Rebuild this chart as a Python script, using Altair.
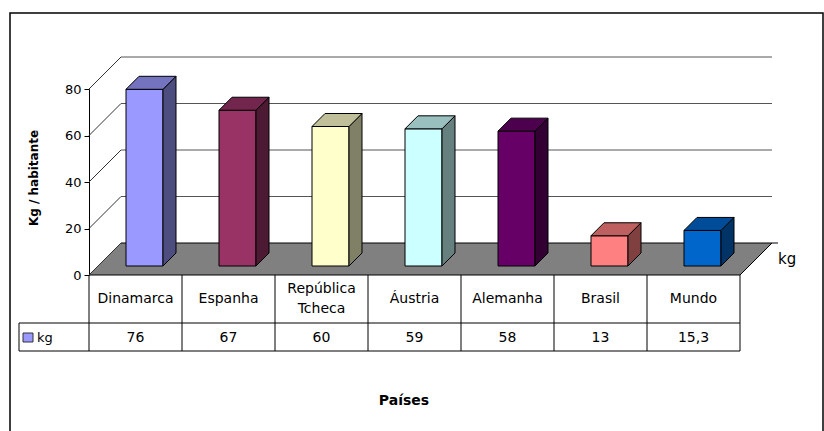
import altair as alt
import pandas as pd

# ---------------- data ----------------
countries = ["Dinamarca", "Espanha", "República Tcheca", "Áustria", "Alemanha", "Brasil", "Mundo"]
header_labels = ["Dinamarca", "Espanha", "República\nTcheca", "Áustria", "Alemanha", "Brasil", "Mundo"]
values = [76, 67, 60, 59, 58, 13, 15.3]
value_labels = ["76", "67", "60", "59", "58", "13", "15,3"]
y_ticks = [0, 20, 40, 60, 80]
series_name = "kg"
y_title = "Kg / habitante"
x_title = "Países"

# ---------------- styles ----------------
front_colors = ["#9999FF", "#993366", "#FFFFCC", "#CCFFFF", "#660066", "#FF8080", "#0066CC"]
side_colors = ["#4D4D80", "#4D1A33", "#808066", "#668080", "#330033", "#804040", "#003366"]
top_colors = ["#7373BF", "#73264D", "#BFBF99", "#99BFBF", "#4D004D", "#BF6060", "#004C99"]
FONT = "DejaVu Sans"

# ---------------- layout ----------------
LEFT, TOP = 89, 89
W, H = 651, 186
RIGHT = 824 - LEFT - W
BOTTOM = 431 - TOP - H
N = len(countries)
YMAX = 80
ux = W / N
uy = H / YMAX


def cx(p):
    return p / ux


def cy(p):
    return p / uy


DEPTH = 32
FRONT = 9
BAR_D = 13
HALF = 18.5
LINE_H = 20

xs = alt.Scale(domain=[0, N], nice=False, zero=False)
ys = alt.Scale(domain=[0, YMAX], nice=False, zero=False)
yaxis = alt.Axis(
    values=y_ticks, title="", grid=False, domainColor="black", tickColor="black",
    tickSize=5, labelFont=FONT, labelFontSize=13, labelColor="black", labelPadding=3,
    domainWidth=1, tickWidth=1)


def Y(field):
    return alt.Y(field, scale=ys, axis=yaxis)


def X(field):
    return alt.X(field, scale=xs, axis=None)


# ---------------- derived tables ----------------
front_rows, side_rows, top_rows = [], [], []
for i, (c, v) in enumerate(zip(countries, values)):
    x0 = i + 0.5 + cx(FRONT - HALF)
    x1 = i + 0.5 + cx(FRONT + HALF)
    y0 = cy(FRONT)
    y1 = v + cy(FRONT)
    front_rows.append(dict(c=c, x0=x0, x1=x1, y0=y0, y1=y1, col=front_colors[i]))
    side_rows.append(dict(c=c, x=x1, lo=y0, hi=y1, col=side_colors[i]))
    side_rows.append(dict(c=c, x=x1 + cx(BAR_D), lo=y0 + cy(BAR_D), hi=y1 + cy(BAR_D), col=side_colors[i]))
    top_rows.append(dict(c=c, y=y1, a=x0, b=x1, col=top_colors[i]))
    top_rows.append(dict(c=c, y=y1 + cy(BAR_D), a=x0 + cx(BAR_D), b=x1 + cx(BAR_D), col=top_colors[i]))

front_df = pd.DataFrame(front_rows)
side_df = pd.DataFrame(side_rows)
top_df = pd.DataFrame(top_rows)

floor_df = pd.DataFrame([
    dict(y=0, a=0, b=N),
    dict(y=cy(DEPTH), a=cx(DEPTH), b=N + cx(DEPTH)),
])

back_df = pd.DataFrame([dict(x=cx(DEPTH), x2=N + cx(DEPTH), y=t + cy(DEPTH)) for t in y_ticks[1:]])
diag_df = pd.DataFrame([dict(x=0, x2=cx(DEPTH), y=t, y2=t + cy(DEPTH)) for t in y_ticks])
dtick_df = pd.DataFrame([dict(x=N + cx(DEPTH), x2=N + cx(DEPTH + 6), y=cy(DEPTH))])

n_lines = [h.count("\n") + 1 for h in header_labels]
table_df = pd.DataFrame(dict(
    x=[i + 0.5 for i in range(N)], head=header_labels, val=value_labels,
    ty=[299 - TOP - (k - 1) * LINE_H / 2 for k in n_lines],
))
vlines_df = pd.DataFrame(dict(x=list(range(N + 1))))
hlines_df = pd.DataFrame(dict(x=[cx(19 - LEFT)] * 2, x2=[N] * 2, yy=[323 - TOP, 351 - TOP]))
one = pd.DataFrame(dict(k=[0]))

# ---------------- layers ----------------
floor = alt.Chart(floor_df).mark_area(
    orient="horizontal", color="#808080", stroke="black", strokeWidth=1
).encode(y=Y("y:Q"), x=X("a:Q"), x2="b:Q")

back = alt.Chart(back_df).mark_rule(color="#555555", strokeWidth=1).encode(
    x=X("x:Q"), x2="x2:Q", y=Y("y:Q"),
)

diag = alt.Chart(diag_df).mark_rule(color="#333333", strokeWidth=1).encode(
    x=X("x:Q"), x2="x2:Q", y=Y("y:Q"), y2="y2:Q",
)

dtick = alt.Chart(dtick_df).mark_rule(color="black", strokeWidth=1).encode(
    x=X("x:Q"), x2="x2:Q", y=Y("y:Q"),
)

fronts = alt.Chart(front_df).mark_rect(stroke="black", strokeWidth=1).encode(
    x=X("x0:Q"), x2="x1:Q", y=Y("y0:Q"), y2="y1:Q",
    fill=alt.Fill("col:N", scale=None),
)

sides = alt.Chart(side_df).mark_area(stroke="black", strokeWidth=1, fillOpacity=1).encode(
    x=X("x:Q"), y=Y("lo:Q"), y2="hi:Q",
    fill=alt.Fill("col:N", scale=None), detail="c:N",
)

tops = alt.Chart(top_df).mark_area(orient="horizontal", stroke="black", strokeWidth=1, fillOpacity=1).encode(
    y=Y("y:Q"), x=X("a:Q"), x2="b:Q",
    fill=alt.Fill("col:N", scale=None), detail="c:N",
)

vlines = alt.Chart(vlines_df).mark_rule(color="black", strokeWidth=1).encode(
    x=X("x:Q"), y=alt.value(275 - TOP), y2=alt.value(351 - TOP),
)

hlines = alt.Chart(hlines_df).mark_rule(color="black", strokeWidth=1).encode(
    x=X("x:Q"), x2="x2:Q", y=alt.Y("yy:Q", scale=None),
)

lborder = alt.Chart(one).mark_rule(color="black", strokeWidth=1).encode(
    x=alt.value(19 - LEFT), y=alt.value(323 - TOP), y2=alt.value(351 - TOP),
)

heads = alt.Chart(table_df).mark_text(
    font=FONT, fontSize=14, color="black", baseline="middle", align="center",
    lineBreak="\n", lineHeight=LINE_H,
).encode(x=X("x:Q"), y=alt.Y("ty:Q", scale=None), text="head:N")

vals = alt.Chart(table_df).mark_text(
    font=FONT, fontSize=14, color="black", baseline="middle", align="center",
).encode(x=X("x:Q"), y=alt.value(338 - TOP), text="val:N")

key = alt.Chart(one).mark_rect(fill=front_colors[0], stroke="#333333", strokeWidth=1).encode(
    x=alt.value(23 - LEFT), x2=alt.value(33 - LEFT),
    y=alt.value(333 - TOP), y2=alt.value(342 - TOP),
)

key_text = alt.Chart(one).mark_text(
    font=FONT, fontSize=13, color="black", align="left", baseline="middle", text=series_name,
).encode(x=alt.value(37 - LEFT), y=alt.value(338 - TOP))

depth_label = alt.Chart(one).mark_text(
    font=FONT, fontSize=15, color="black", align="left", baseline="middle", text=series_name,
).encode(x=alt.value(778 - LEFT), y=alt.value(259 - TOP))

ytitle = alt.Chart(one).mark_text(
    font=FONT, fontSize=12, fontWeight="bold", color="black", align="center",
    baseline="middle", angle=270, text=y_title,
).encode(x=alt.value(34 - LEFT), y=alt.value(178 - TOP))

xtitle = alt.Chart(one).mark_text(
    font=FONT, fontSize=14, fontWeight="bold", color="black", align="center",
    baseline="middle", text=x_title,
).encode(x=alt.value(404 - LEFT), y=alt.value(401 - TOP))

border = alt.Chart(one).mark_rect(fillOpacity=0, stroke="black", strokeWidth=1.5).encode(
    x=alt.value(10 - LEFT), x2=alt.value(823 - LEFT),
    y=alt.value(13 - TOP), y2=alt.value(445 - TOP),
)

chart = alt.layer(
    floor, border, back, diag, dtick, fronts, sides, tops,
    vlines, hlines, lborder, heads, vals, key, key_text, depth_label, ytitle, xtitle,
).properties(
    width=W, height=H,
    autosize=alt.AutoSizeParams(type="none"),
    padding={"left": LEFT, "top": TOP, "right": RIGHT, "bottom": BOTTOM},
    background="white",
).configure_view(strokeWidth=0)

chart.save("out.html", embed_options={"renderer": "svg", "actions": False})
